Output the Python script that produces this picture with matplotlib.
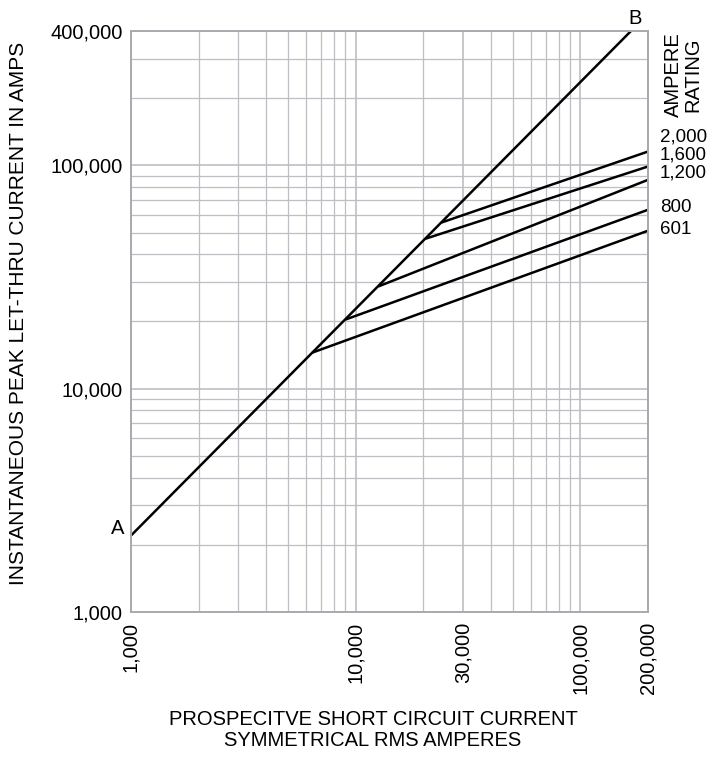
import matplotlib
matplotlib.use("Agg")
import matplotlib.pyplot as plt
from matplotlib.ticker import LogLocator, NullFormatter

plt.rcParams['font.family'] = ['Liberation Sans', 'DejaVu Sans']

# diagonal A-B (prospective current vs peak let-thru)
ab_x = [1000, 168000]
ab_y = [2200, 400000]

# ampere rating curves: kink on A-B, then to x = 200,000
ratings = ['601', '800', '1,200', '1,600', '2,000']
kink_x = [6400, 9000, 12600, 20500, 24100]
kink_y = [14500, 20400, 28700, 47000, 55500]
end_x = [200000, 200000, 200000, 200000, 200000]
end_y = [51000, 63300, 86200, 98900, 115400]

xticks = [1000, 10000, 30000, 100000, 200000]
xlabels = ['1,000', '10,000', '30,000', '100,000', '200,000']
yticks = [1000, 10000, 100000, 400000]
ylabels = ['1,000', '10,000', '100,000', '400,000']

fs = 14.5
grid_c = '#bebec4'
spine_c = '#a9a9b0'

fig = plt.figure(figsize=(7.14, 7.57), dpi=100)
ax = fig.add_axes([131/714, 1 - 612/757, (648-131)/714, (612-31)/757])
ax.set_xscale('log')
ax.set_yscale('log')
ax.set_xlim(1000, 200000)
ax.set_ylim(1000, 400000)

ax.xaxis.set_minor_locator(LogLocator(base=10, subs=range(2, 10)))
ax.yaxis.set_minor_locator(LogLocator(base=10, subs=range(2, 10)))
ax.xaxis.set_minor_formatter(NullFormatter())
ax.yaxis.set_minor_formatter(NullFormatter())
ax.set_xticks(xticks)
ax.set_xticklabels(xlabels, rotation=90, fontsize=fs)
ax.set_yticks(yticks)
ax.set_yticklabels(ylabels, fontsize=fs)
ax.tick_params(which='both', length=0)
ax.tick_params(axis='x', pad=7)
ax.tick_params(axis='y', pad=6)

ax.grid(True, which='major', color=grid_c, linewidth=1.2)
ax.grid(True, which='minor', color=grid_c, linewidth=0.9)
ax.set_axisbelow(True)
for s in ax.spines.values():
    s.set_color(spine_c)
    s.set_linewidth(1.4)

ax.plot(ab_x, ab_y, color='black', linewidth=1.8, solid_capstyle='butt', clip_on=False)
for i in range(len(ratings)):
    ax.plot([kink_x[i], end_x[i]], [kink_y[i], end_y[i]], color='black',
            linewidth=1.8, solid_capstyle='butt', clip_on=False)

fig.text(118/714, 1 - 528/757, 'A', fontsize=fs, ha='center', va='center')
fig.text(635/714, 1 - 18/757, 'B', fontsize=fs, ha='center', va='center')

fig.text(673/714, 1 - 75/757, 'AMPERE', fontsize=fs, rotation=90, ha='center', va='center')
fig.text(693/714, 1 - 75/757, 'RATING', fontsize=fs, rotation=90, ha='center', va='center')
label_y = [229, 207, 173, 155, 137]
for i in range(len(ratings)):
    fig.text(660/714, 1 - label_y[i]/757, ratings[i], fontsize=13.5, ha='left', va='center')

fig.text(373/714, 1 - 730/757, 'PROSPECITVE SHORT CIRCUIT CURRENT\nSYMMETRICAL RMS AMPERES',
         fontsize=fs, ha='center', va='center', linespacing=1.1)
fig.text(19/714, 1 - 313/757, 'INSTANTANEOUS PEAK LET-THRU CURRENT IN AMPS',
         fontsize=15, rotation=90, ha='center', va='center')

fig.savefig('out.png', dpi=100)
